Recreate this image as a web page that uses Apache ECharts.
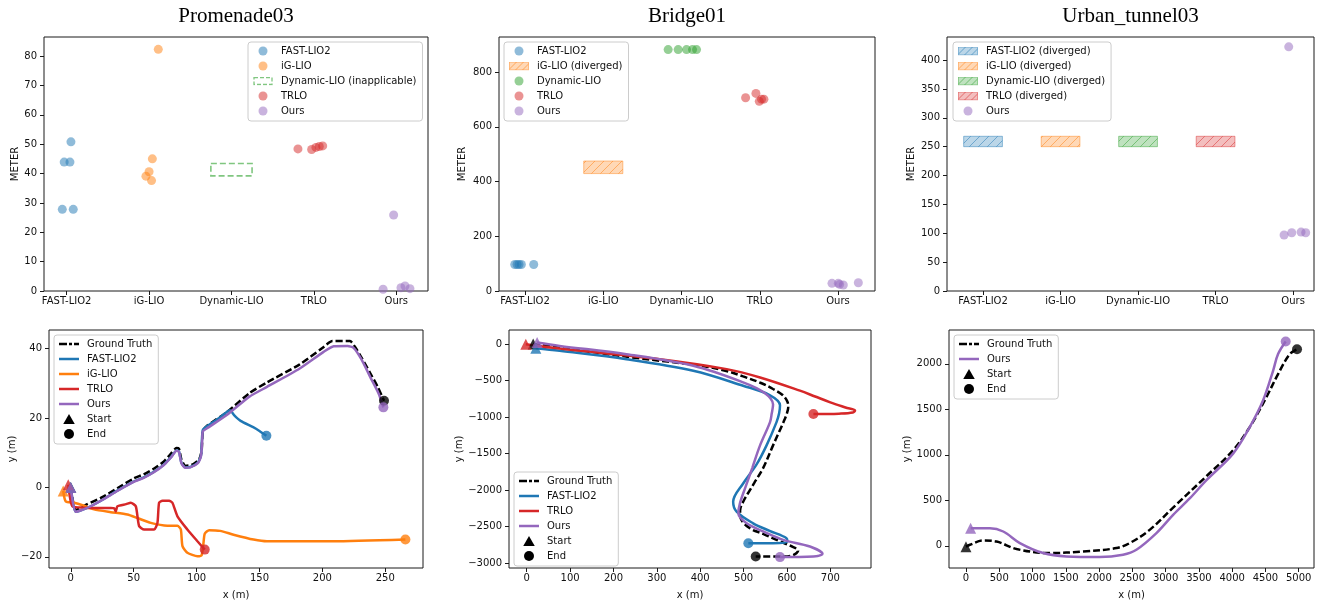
<!DOCTYPE html>
<html>
<head>
<meta charset="utf-8">
<title>Trajectory error comparison</title>
<script src="https://cdn.jsdelivr.net/npm/echarts@6/dist/echarts.min.js"></script>
<style>
  html, body { margin: 0; padding: 0; background: #fff; }
  #chart { width: 1340px; height: 606px; }
</style>
</head>
<body>
<div id="chart"></div>
<script>
// ---------------------------------------------------------------------------
// Data
// ---------------------------------------------------------------------------
const panelTitles = ['Promenade03', 'Bridge01', 'Urban_tunnel03'];
const categories = ['FAST-LIO2', 'iG-LIO', 'Dynamic-LIO', 'TRLO', 'Ours'];

// Error per run (METER). x = category index plus strip jitter.
const promFastLio2 = [[-0.053, 27.8], [0.080, 27.8], [-0.030, 43.9], [0.040, 43.9], [0.052, 50.8]];
const promIgLio = [[1.112, 82.3], [1.040, 45.0], [1.000, 40.6], [0.962, 39.1], [1.030, 37.6]];
const promDynamicLioBox = [[2, 39.2, 43.4]];          // [category, low, high]
const promTrlo = [[2.807, 48.4], [2.973, 48.2], [3.025, 48.9], [3.066, 49.2], [3.107, 49.4]];
const promOurs = [[3.968, 25.9], [3.840, 0.6], [4.057, 1.1], [4.106, 1.7], [4.166, 0.8]];

const bridgeFastLio2 = [[-0.132, 97], [-0.102, 97], [-0.077, 97], [-0.047, 97], [0.111, 97]];
const bridgeIgLioBox = [[1, 429, 475]];
const bridgeDynamicLio = [[1.829, 882], [1.957, 882], [2.064, 882], [2.141, 882], [2.192, 882]];
const bridgeTrlo = [[2.819, 706], [2.951, 722], [2.994, 693], [3.023, 701], [3.053, 701]];
const bridgeOurs = [[3.923, 28], [4.004, 28], [4.021, 24], [4.068, 22], [4.260, 30]];

const tunnelFastLio2Box = [[0, 250, 268]];
const tunnelIgLioBox = [[1, 250, 268]];
const tunnelDynamicLioBox = [[2, 250, 268]];
const tunnelTrloBox = [[3, 250, 268]];
const tunnelOurs = [[3.944, 423], [3.884, 97], [3.983, 101], [4.103, 102], [4.163, 101]];

// Trajectories [x (m), y (m)]; first point = start, last point = end.
const promGroundTruth = [[0, 0], [4, -6.5], [12, -5], [25, -2.8], [37, -0.2], [50, 2.6], [58, 3.8], [66, 5.4], [74, 7.5],
  [80, 9.9], [84, 11.4], [86, 11.2], [88, 8], [91, 6.3], [96, 6.5], [102, 8.1], [104, 10.5], [105, 16.2], [108, 17.7],
  [124, 21.7], [142, 27.2], [156, 30.3], [182, 35.5], [200, 40.2], [208, 42.2], [222, 42.2], [226, 40.5], [231, 37.5],
  [238, 33], [244, 29], [249, 25]];
const promFastLio2Track = [[0, 0], [4, -7], [13, -5.9], [25, -3.6], [37, -0.9], [50, 1.7], [58, 2.9], [66, 4.5], [74, 6.6],
  [80, 8.9], [84, 10.7], [86, 10.4], [88, 7.1], [91, 5.8], [95, 5.9], [101, 7.2], [103.5, 9.2], [104.3, 14], [105, 16.6],
  [108, 17.6], [118, 20], [124, 21.8], [126.5, 22.3], [130, 20.8], [135, 19.2], [145, 17.4], [150, 16.3], [155.5, 14.9]];
const promIgLioTrack = [[-6, -1], [-4, -4], [2.6, -4.4], [10, -5.2], [18.5, -6.3], [31.8, -7.1], [45, -7.8], [53, -8.8],
  [63.6, -10.2], [76.8, -11], [84.8, -11], [87.5, -12.1], [88.8, -16.9], [92.7, -18.8], [100.7, -19.8], [104, -19.5],
  [105.5, -16], [106.5, -13.3], [110, -12.3], [118.8, -12.5], [129.4, -13.6], [145.3, -15], [155.9, -15.5], [209, -15.5],
  [266, -15]];
const promTrloTrack = [[-2, 0.8], [1.3, -5.4], [10, -5.8], [18.5, -5.9], [31.8, -5.9], [34.5, -6], [35.8, -6.9], [37.1, -5.4],
  [44, -4.8], [47.7, -4.4], [51.7, -5.4], [54.3, -11.1], [58.3, -12.1], [66.3, -12.1], [68.9, -10.2], [70.2, -4.4],
  [72.9, -3.8], [78.2, -3.8], [80.8, -4.4], [84.8, -8.3], [92.7, -12.1], [100.7, -15.5], [106.5, -17.9]];
const promOursTrack = [[0, 0], [4, -7], [13, -5.9], [25, -3.6], [37, -1], [50, 1.6], [58, 2.8], [66, 4.4], [74, 6.5],
  [80, 8.8], [84, 10.6], [86, 10.3], [88, 7], [91, 5.7], [95, 5.8], [101, 7], [103.5, 9], [104.5, 13.7], [105, 16.2],
  [108, 17], [124, 20.9], [142, 26.2], [156, 29], [182, 34.3], [201, 39.1], [209, 40.7], [220, 40.8], [225, 40.2],
  [231, 37], [238, 31.9], [244.7, 27.1], [248.5, 23.1]];

const bridgeGroundTruth = [[15, 0], [100, -70], [250, -190], [399, -297], [460, -370], [499, -445], [540, -535],
  [568, -617], [590, -700], [601, -790], [603, -867], [600, -950], [592, -1071], [580, -1230], [568, -1389], [545, -1700],
  [525, -1900], [514.6, -2002], [500, -2150], [492, -2280], [493, -2380], [514.6, -2524], [545, -2600], [576, -2683],
  [610, -2770], [626, -2830], [615, -2890], [590, -2910], [528, -2910]];
const bridgeFastLio2Track = [[21, -59], [76, -95], [230, -209], [384, -368], [499, -572], [560, -700], [584, -840],
  [582, -950], [576, -1071], [553, -1389], [530, -1650], [499, -1911], [476, -2161], [484, -2297], [522, -2456],
  [560, -2560], [599, -2660], [601, -2706], [568, -2728], [511, -2728]];
const bridgeTrloTrack = [[-2, -4], [76, -64], [307, -209], [461, -345], [538, -459], [630, -640], [665, -720],
  [700, -800], [735, -870], [757, -912], [752, -940], [720, -955], [661, -960]];
const bridgeOursTrack = [[24, 18], [76, -27], [230, -141], [384, -300], [499, -527], [548, -670], [568, -830],
  [565, -950], [561, -1071], [538, -1389], [520, -1700], [505, -1950], [491.6, -2183], [488, -2320], [507, -2456],
  [550, -2580], [591.5, -2683], [653, -2774], [682, -2874], [661, -2910], [584, -2919]];

const tunnelGroundTruth = [[0, -10], [60, 11], [260, 58], [460, 47], [761, -36], [1261, -80], [1761, -62], [2262, -25],
  [2461, 30], [2761, 175], [3113, 420], [3614, 765], [4014, 1049], [4264, 1304], [4514, 1632], [4690, 1887],
  [4865, 2106], [4975, 2160]];
const tunnelOursTrack = [[70, 193], [360, 193], [560, 157], [810, 30], [1160, -80], [1511, -117], [2011, -124],
  [2361, -98], [2561, -44], [2862, 139], [3113, 340], [3362, 520], [3614, 721], [4014, 1013], [4264, 1304],
  [4464, 1596], [4615, 1923], [4690, 2106], [4805, 2244]];

// Tick values
const promMeterTicks = [0, 10, 20, 30, 40, 50, 60, 70, 80];
const bridgeMeterTicks = [0, 200, 400, 600, 800];
const tunnelMeterTicks = [0, 50, 100, 150, 200, 250, 300, 350, 400];
const categoryTicks = [0, 1, 2, 3, 4];
const promXTicks = [0, 50, 100, 150, 200, 250];
const promYTicks = [-20, 0, 20, 40];
const bridgeXTicks = [0, 100, 200, 300, 400, 500, 600, 700];
const bridgeYTicks = [-3000, -2500, -2000, -1500, -1000, -500, 0];
const tunnelXTicks = [0, 500, 1000, 1500, 2000, 2500, 3000, 3500, 4000, 4500, 5000];
const tunnelYTicks = [0, 500, 1000, 1500, 2000];

// ---------------------------------------------------------------------------
// Styling helpers
// ---------------------------------------------------------------------------
const FONT = 'DejaVu Sans';
const TEXT = '#111';
const COLOR = { blue: '#1f77b4', orange: '#ff7f0e', green: '#2ca02c', red: '#d62728', purple: '#9467bd', black: '#000000' };
const BOX_HALF = 0.25;       // half width of a "diverged" box, in category units
const HATCH_STEP = 9;        // hatch spacing in px

function rgba(hex, a) {
  const n = parseInt(hex.slice(1), 16);
  return `rgba(${n >> 16},${(n >> 8) & 255},${n & 255},${a})`;
}
const minus = v => String(v).replace('-', '\u2212');

function svgIcon(body) {
  const svg = `<svg xmlns="http://www.w3.org/2000/svg" width="20" height="9" viewBox="0 0 20 9">${body}</svg>`;
  return 'image://data:image/svg+xml;charset=utf-8,' + encodeURIComponent(svg);
}
const icons = {
  hatch: c => svgIcon(`<defs><clipPath id="k"><rect x="0.5" y="0.5" width="19" height="8"/></clipPath></defs>` +
    `<rect x="0.5" y="0.5" width="19" height="8" fill="${c}" fill-opacity="0.3" stroke="${c}" stroke-opacity="0.45"/>` +
    `<g clip-path="url(#k)" stroke="${c}" stroke-opacity="0.6" stroke-width="0.9">` +
    `<path d="M-9 10 L1 0 M-2 10 L8 0 M5 10 L15 0 M12 10 L22 0 M19 10 L29 0"/></g>`),
  dashedBox: c => svgIcon(`<rect x="1" y="1" width="18" height="7" fill="none" stroke="${c}" stroke-opacity="0.6" stroke-width="1.3" stroke-dasharray="4,2"/>`),
  solidLine: 'path://M0,0 H20 V2.5 H0 Z',
  dashedLine: 'path://M0,0 H8 V2.5 H0 Z M10,0 H13 V2.5 H10 Z M15,0 H20 V2.5 H15 Z',
  triangle: 'path://M5.75,0 L11.5,10 L0,10 Z'
};

// ---------------------------------------------------------------------------
// Layout
// ---------------------------------------------------------------------------
const grids = [
  { left: 44, top: 37, width: 384, height: 254 },
  { left: 499, top: 37, width: 376, height: 254 },
  { left: 947, top: 37, width: 367, height: 254 },
  { left: 49, top: 330, width: 374, height: 238 },
  { left: 509, top: 330, width: 362, height: 238 },
  { left: 949, top: 330, width: 365, height: 238 }
].map(g => Object.assign({ show: true, borderColor: '#1a1a1a', borderWidth: 1, backgroundColor: 'transparent' }, g));

function axis(kind, gi, min, max, ticks, name, nameGap, formatter) {
  return {
    type: 'value', gridIndex: gi, min, max,
    axisLine: { show: false, onZero: false },
    splitLine: { show: false },
    axisTick: { show: true, customValues: ticks, length: 4, inside: false, lineStyle: { color: '#1a1a1a', width: 1 } },
    axisLabel: {
      customValues: ticks, margin: kind === 'x' ? 5 : 7, fontSize: 10, fontFamily: FONT, color: TEXT,
      formatter: formatter || minus
    },
    name, nameGap, nameLocation: 'middle',
    nameTextStyle: { fontSize: 10, fontFamily: FONT, color: TEXT }
  };
}
const catLabel = v => categories[Math.round(v)];

const xAxes = [
  axis('x', 0, -0.275, 4.385, categoryTicks, '', 0, catLabel),
  axis('x', 1, -0.333, 4.473, categoryTicks, '', 0, catLabel),
  axis('x', 2, -0.465, 4.27, categoryTicks, '', 0, catLabel),
  axis('x', 3, -17.3, 280, promXTicks, 'x (m)', 22),
  axis('x', 4, -40.8, 793.8, bridgeXTicks, 'x (m)', 22),
  axis('x', 5, -255, 5230, tunnelXTicks, 'x (m)', 22)
];
const yAxes = [
  axis('y', 0, 0, 86.5, promMeterTicks, 'METER', 24),
  axis('y', 1, 0, 928, bridgeMeterTicks, 'METER', 32),
  axis('y', 2, 0, 440, tunnelMeterTicks, 'METER', 31),
  axis('y', 3, -23.2, 45.4, promYTicks, 'y (m)', 31),
  axis('y', 4, -3068, 190.6, bridgeYTicks, 'y (m)', 44),
  axis('y', 5, -244, 2371, tunnelYTicks, 'y (m)', 36)
];

// ---------------------------------------------------------------------------
// Series builders
// ---------------------------------------------------------------------------
function strip(name, data, color, gi) {
  return {
    type: 'scatter', name, xAxisIndex: gi, yAxisIndex: gi, data,
    symbol: 'circle', symbolSize: 9, itemStyle: { color, opacity: 0.5 }, z: 3, silent: true
  };
}

function box(name, data, color, gi, mode) {
  return {
    type: 'custom', name, xAxisIndex: gi, yAxisIndex: gi, data, z: 2, silent: true,
    encode: { x: 0, y: [1, 2] },
    renderItem(params, api) {
      const cx = api.value(0), lo = api.value(1), hi = api.value(2);
      const a = api.coord([cx - BOX_HALF, hi]);
      const b = api.coord([cx + BOX_HALF, lo]);
      const x0 = a[0], y0 = a[1], x1 = b[0], y1 = b[1];
      const children = [];
      if (mode === 'hatch') {
        children.push({ type: 'rect', shape: { x: x0, y: y0, width: x1 - x0, height: y1 - y0 },
          style: { fill: rgba(color, 0.3), stroke: rgba(color, 0.45), lineWidth: 1 } });
        // "/" hatch: lines of constant x + y, clipped to the box
        const start = Math.ceil((x0 + y0) / HATCH_STEP) * HATCH_STEP;
        for (let c = start; c <= x1 + y1; c += HATCH_STEP) {
          const xa = Math.max(x0, c - y1), xb = Math.min(x1, c - y0);
          if (xb - xa < 0.5) continue;
          children.push({ type: 'line', shape: { x1: xa, y1: c - xa, x2: xb, y2: c - xb },
            style: { stroke: rgba(color, 0.55), lineWidth: 0.9 } });
        }
      } else {
        children.push({ type: 'rect', shape: { x: x0, y: y0, width: x1 - x0, height: y1 - y0 },
          style: { fill: 'none', stroke: rgba(color, 0.6), lineWidth: 1.6, lineDash: [6, 3] } });
      }
      return { type: 'group', children };
    }
  };
}

function track(name, data, color, gi, dashed, smooth) {
  return {
    type: 'line', name, xAxisIndex: gi, yAxisIndex: gi, data, silent: true,
    showSymbol: false, symbol: 'none', smooth: smooth, z: 2,
    lineStyle: { color, width: 2.5, type: dashed ? [7, 3] : 'solid' },
    itemStyle: { color }
  };
}

function endpoints(tracks, gi) {
  const pick = (t, last) => ({ value: last ? t.data[t.data.length - 1] : t.data[0], itemStyle: { color: t.color } });
  return [
    { type: 'scatter', name: 'Start', xAxisIndex: gi, yAxisIndex: gi, symbol: 'triangle', symbolSize: 11, z: 4,
      silent: true, itemStyle: { color: '#000' }, data: tracks.map(t => pick(t, false)) },
    { type: 'scatter', name: 'End', xAxisIndex: gi, yAxisIndex: gi, symbol: 'circle', symbolSize: 10, z: 4,
      silent: true, itemStyle: { color: '#000' }, data: tracks.map(t => pick(t, true)) }
  ];
}

function trajectoryPanel(tracks, gi, smooth) {
  return tracks.map(t => track(t.name, t.data, t.color, gi, t.dashed, smooth)).concat(endpoints(tracks, gi));
}

const promTracks = [
  { name: 'Ground Truth', data: promGroundTruth, color: COLOR.black, dashed: true },
  { name: 'FAST-LIO2', data: promFastLio2Track, color: COLOR.blue },
  { name: 'iG-LIO', data: promIgLioTrack, color: COLOR.orange },
  { name: 'TRLO', data: promTrloTrack, color: COLOR.red },
  { name: 'Ours', data: promOursTrack, color: COLOR.purple }
];
const bridgeTracks = [
  { name: 'Ground Truth', data: bridgeGroundTruth, color: COLOR.black, dashed: true },
  { name: 'FAST-LIO2', data: bridgeFastLio2Track, color: COLOR.blue },
  { name: 'TRLO', data: bridgeTrloTrack, color: COLOR.red },
  { name: 'Ours', data: bridgeOursTrack, color: COLOR.purple }
];
const tunnelTracks = [
  { name: 'Ground Truth', data: tunnelGroundTruth, color: COLOR.black, dashed: true },
  { name: 'Ours', data: tunnelOursTrack, color: COLOR.purple }
];

const series = [
  strip('FAST-LIO2', promFastLio2, COLOR.blue, 0),
  strip('iG-LIO', promIgLio, COLOR.orange, 0),
  box('Dynamic-LIO (inapplicable)', promDynamicLioBox, COLOR.green, 0, 'dashed'),
  strip('TRLO', promTrlo, COLOR.red, 0),
  strip('Ours', promOurs, COLOR.purple, 0),

  strip('FAST-LIO2', bridgeFastLio2, COLOR.blue, 1),
  box('iG-LIO (diverged)', bridgeIgLioBox, COLOR.orange, 1, 'hatch'),
  strip('Dynamic-LIO', bridgeDynamicLio, COLOR.green, 1),
  strip('TRLO', bridgeTrlo, COLOR.red, 1),
  strip('Ours', bridgeOurs, COLOR.purple, 1),

  box('FAST-LIO2 (diverged)', tunnelFastLio2Box, COLOR.blue, 2, 'hatch'),
  box('iG-LIO (diverged)', tunnelIgLioBox, COLOR.orange, 2, 'hatch'),
  box('Dynamic-LIO (diverged)', tunnelDynamicLioBox, COLOR.green, 2, 'hatch'),
  box('TRLO (diverged)', tunnelTrloBox, COLOR.red, 2, 'hatch'),
  strip('Ours', tunnelOurs, COLOR.purple, 2)
].concat(
  trajectoryPanel(promTracks, 3, 0.2),
  trajectoryPanel(bridgeTracks, 4, 0.35),
  trajectoryPanel(tunnelTracks, 5, 0.35)
);

// ---------------------------------------------------------------------------
// Legends
// ---------------------------------------------------------------------------
function legend(left, top, iconHeight, items) {
  return {
    orient: 'vertical', left, top, itemWidth: 20, itemHeight: iconHeight, itemGap: 3,
    padding: [3, 6, 4, 5], borderColor: '#cccccc', borderWidth: 1, borderRadius: 3,
    backgroundColor: 'rgba(255,255,255,0.85)', selectedMode: false, z: 10,
    itemStyle: { borderWidth: 0 },
    textStyle: { fontFamily: FONT, fontSize: 10, color: TEXT, lineHeight: 12, padding: [0, 0, 0, 3] },
    data: items
  };
}
const item = (name, icon, color, opacity) =>
  ({ name, icon, itemStyle: { color, opacity: opacity == null ? 1 : opacity, borderWidth: 0 } });
const dotItem = (name, color) => item(name, 'circle', color, 0.5);
const trackLegend = tracks => tracks
  .map(t => item(t.name, t.dashed ? icons.dashedLine : icons.solidLine, t.color))
  .concat([item('Start', icons.triangle, '#000'), item('End', 'circle', '#000')]);

const legends = [
  legend(248, 42, 9, [
    dotItem('FAST-LIO2', COLOR.blue), dotItem('iG-LIO', COLOR.orange),
    item('Dynamic-LIO (inapplicable)', icons.dashedBox(COLOR.green), COLOR.green),
    dotItem('TRLO', COLOR.red), dotItem('Ours', COLOR.purple)]),
  legend(504, 42, 9, [
    dotItem('FAST-LIO2', COLOR.blue), item('iG-LIO (diverged)', icons.hatch(COLOR.orange), COLOR.orange),
    dotItem('Dynamic-LIO', COLOR.green), dotItem('TRLO', COLOR.red), dotItem('Ours', COLOR.purple)]),
  legend(953, 42, 9, [
    item('FAST-LIO2 (diverged)', icons.hatch(COLOR.blue), COLOR.blue),
    item('iG-LIO (diverged)', icons.hatch(COLOR.orange), COLOR.orange),
    item('Dynamic-LIO (diverged)', icons.hatch(COLOR.green), COLOR.green),
    item('TRLO (diverged)', icons.hatch(COLOR.red), COLOR.red),
    dotItem('Ours', COLOR.purple)]),
  legend(54, 335, 10, trackLegend(promTracks)),
  legend(514, 472, 10, trackLegend(bridgeTracks)),
  legend(954, 335, 10, trackLegend(tunnelTracks))
];

// Panel titles, centred over each column of plots
const titles = panelTitles.map((text, i) => ({
  type: 'text', x: grids[i].left + grids[i].width / 2, y: 16, silent: true,
  style: { text, font: '21px "Liberation Serif"', fill: '#000',
    textAlign: 'center', textVerticalAlign: 'middle', align: 'center', verticalAlign: 'middle' }
}));

const chart = echarts.init(document.getElementById('chart'), null, { renderer: 'canvas' });
chart.setOption({
  animation: false,
  backgroundColor: '#ffffff',
  textStyle: { fontFamily: FONT },
  grid: grids,
  xAxis: xAxes,
  yAxis: yAxes,
  legend: legends,
  graphic: titles,
  series
});
</script>
</body>
</html>
